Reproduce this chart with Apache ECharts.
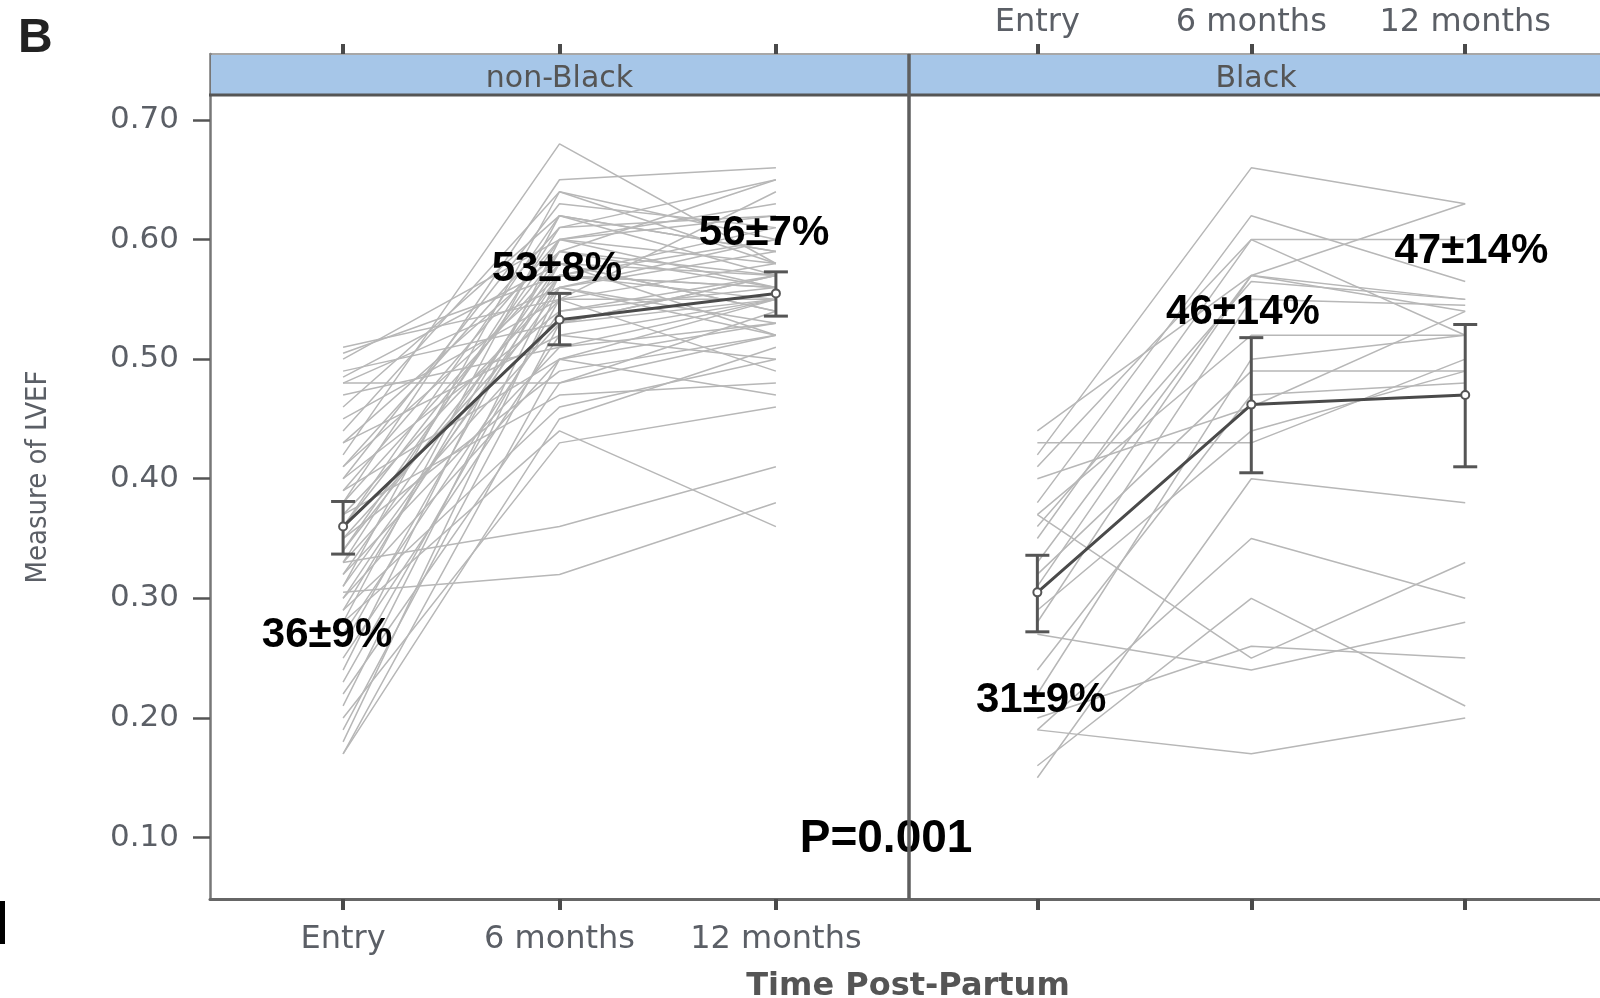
<!DOCTYPE html>
<html>
<head>
<meta charset="utf-8">
<script src="https://cdn.jsdelivr.net/npm/echarts@6/dist/echarts.min.js"></script>
<style>
html,body{margin:0;padding:0;background:#fff;}
#chart{width:1600px;height:998px;}
</style>
</head>
<body>
<div id="chart"></div>
<script>
// ---------- data ----------
const categories = ['Entry', '6 months', '12 months'];
const yTicks = [0.1, 0.2, 0.3, 0.4, 0.5, 0.6, 0.7];
const panels = ['non-Black', 'Black'];

// individual patients [Entry, 6 months, 12 months]
const nonBlackLines = [
  [0.51, 0.55, 0.58], [0.505, 0.57, 0.56], [0.50, 0.60, 0.62], [0.49, 0.53, 0.55],
  [0.485, 0.58, 0.57], [0.48, 0.48, 0.52], [0.48, 0.56, 0.60], [0.47, 0.51, 0.53],
  [0.46, 0.62, 0.59], [0.45, 0.55, 0.64], [0.44, 0.64, 0.58], [0.43, 0.59, 0.56],
  [0.43, 0.52, 0.50], [0.42, 0.68, 0.58], [0.41, 0.61, 0.65], [0.41, 0.57, 0.55],
  [0.40, 0.63, 0.61], [0.40, 0.54, 0.57], [0.39, 0.60, 0.56], [0.39, 0.50, 0.53],
  [0.38, 0.65, 0.66], [0.38, 0.58, 0.54], [0.37, 0.56, 0.59], [0.37, 0.47, 0.48],
  [0.36, 0.62, 0.57], [0.36, 0.59, 0.65], [0.35, 0.55, 0.55], [0.35, 0.49, 0.52],
  [0.34, 0.60, 0.63], [0.34, 0.57, 0.56], [0.33, 0.36, 0.41], [0.33, 0.61, 0.62],
  [0.33, 0.53, 0.57], [0.32, 0.58, 0.54], [0.32, 0.51, 0.55], [0.31, 0.64, 0.60],
  [0.305, 0.32, 0.38], [0.28, 0.44, 0.36], [0.31, 0.56, 0.53], [0.30, 0.57, 0.60],
  [0.30, 0.50, 0.47], [0.29, 0.59, 0.57], [0.29, 0.46, 0.50], [0.28, 0.62, 0.59],
  [0.27, 0.54, 0.56], [0.26, 0.58, 0.52], [0.25, 0.52, 0.55], [0.24, 0.60, 0.58],
  [0.23, 0.55, 0.49], [0.22, 0.48, 0.54], [0.21, 0.57, 0.61], [0.20, 0.43, 0.46],
  [0.19, 0.53, 0.57], [0.18, 0.56, 0.52], [0.17, 0.50, 0.55], [0.17, 0.45, 0.51]
];
const blackLines = [
  [0.42, 0.66, 0.63], [0.38, 0.62, 0.565], [0.41, 0.60, 0.60], [0.44, 0.57, 0.63],
  [0.36, 0.565, 0.55], [0.33, 0.57, 0.54], [0.37, 0.52, 0.52], [0.32, 0.49, 0.49],
  [0.43, 0.43, 0.50], [0.29, 0.44, 0.49], [0.40, 0.46, 0.54], [0.15, 0.40, 0.38],
  [0.37, 0.25, 0.33], [0.19, 0.35, 0.30], [0.16, 0.30, 0.21], [0.27, 0.24, 0.28],
  [0.20, 0.26, 0.25], [0.19, 0.17, 0.20], [0.24, 0.47, 0.48], [0.28, 0.55, 0.545],
  [0.22, 0.50, 0.52], [0.31, 0.57, 0.55], [0.35, 0.60, 0.52]
];

// group means and error bars
const meanNonBlack = [0.360, 0.533, 0.555];
const lowNonBlack  = [0.337, 0.512, 0.536];
const highNonBlack = [0.381, 0.555, 0.573];
const meanBlack = [0.305, 0.462, 0.470];
const lowBlack  = [0.272, 0.405, 0.410];
const highBlack = [0.336, 0.518, 0.529];

// annotations: [text, x (time index), y (LVEF)]
const annotNonBlack = [
  ['36±9%', -0.074, 0.269],
  ['53±8%', 0.988, 0.575],
  ['56±7%', 1.945, 0.605]
];
const annotBlack = [
  ['31±9%', 0.018, 0.215],
  ['46±14%', 0.961, 0.539],
  ['47±14%', 2.029, 0.590]
];
const pValueText = ['P=0.001', 2.509, 0.0987];

// ---------- chart ----------
const chart = echarts.init(document.getElementById('chart'), null, {renderer: 'canvas'});

const Y_MIN = 0.04857, Y_MAX = 0.75519;
const GREY = '#5b5f66';
const labelFont = 'DejaVu Sans';

function xAxisDef(gridIndex, position, min, max, showLabels) {
  return {
    type: 'value', gridIndex, position, min, max,
    axisLine: {show: true, onZero: false, lineStyle: position === 'bottom' ? {color: '#666', width: 3} : {color: '#8a8a8a', width: 1.5}},
    axisTick: {show: true, customValues: [0, 1, 2], length: position === 'bottom' ? 11 : 10, lineStyle: {color: '#4a4a4a', width: 4}},
    axisLabel: {show: showLabels, customValues: [0, 1, 2], formatter: v => categories[Math.round(v)],
      margin: position === 'bottom' ? 25 : 15, fontFamily: labelFont, fontSize: 32, color: GREY},
    splitLine: {show: false}
  };
}

const series = [];
function annotSeries(gi, items, size) {
  return {
    type: 'scatter', xAxisIndex: gi * 2, yAxisIndex: gi, silent: true, z: 6, animation: false,
    symbol: 'circle', symbolSize: 2, itemStyle: {color: 'rgba(0,0,0,0)'},
    labelLayout: {hideOverlap: false},
    data: items.map(a => ({name: a[0], value: [a[1], a[2]]})),
    label: {show: true, position: 'inside', formatter: '{b}', fontFamily: 'Liberation Sans',
      fontWeight: 'bold', fontSize: size, color: '#000', opacity: 1}
  };
}
function addPanel(lines, mean, low, high, annots, gi) {
  lines.forEach((l) => {
    series.push({
      type: 'line', xAxisIndex: gi * 2, yAxisIndex: gi, silent: true, symbol: 'none',
      data: l.map((v, k) => [k, v]),
      lineStyle: {color: '#b7b7b7', width: 1.5}, z: 2, animation: false
    });
  });
  series.push({
    type: 'custom', xAxisIndex: gi * 2, yAxisIndex: gi, silent: true, z: 4, animation: false,
    data: mean.map((m, k) => [k, low[k], high[k]]),
    renderItem: (params, api) => {
      const x = api.value(0);
      const p1 = api.coord([x, api.value(1)]);
      const p2 = api.coord([x, api.value(2)]);
      const cw = 12;
      const st = {stroke: '#555', lineWidth: 3};
      return {type: 'group', children: [
        {type: 'line', shape: {x1: p1[0], y1: p1[1], x2: p2[0], y2: p2[1]}, style: st},
        {type: 'line', shape: {x1: p1[0] - cw, y1: p1[1], x2: p1[0] + cw, y2: p1[1]}, style: st},
        {type: 'line', shape: {x1: p2[0] - cw, y1: p2[1], x2: p2[0] + cw, y2: p2[1]}, style: st}
      ]};
    }
  });
  series.push({
    type: 'line', xAxisIndex: gi * 2, yAxisIndex: gi, silent: true, z: 5, animation: false,
    data: mean.map((v, k) => [k, v]),
    symbol: 'emptyCircle', symbolSize: 8,
    itemStyle: {color: '#555', borderColor: '#555', borderWidth: 1.5},
    lineStyle: {color: '#4a4a4a', width: 3}
  });
  series.push(annotSeries(gi, annots, 42));
}
addPanel(nonBlackLines, meanNonBlack, lowNonBlack, highNonBlack, annotNonBlack, 0);
addPanel(blackLines, meanBlack, lowBlack, highBlack, annotBlack, 1);
series.push(annotSeries(0, [pValueText], 46));

const option = {
  backgroundColor: '#fff',
  animation: false,
  grid: [
    {left: 210, top: 54, width: 699, height: 845},
    {left: 909, top: 54, width: 699, height: 845}
  ],
  xAxis: [
    xAxisDef(0, 'bottom', -0.615, 2.615, true),
    xAxisDef(0, 'top', -0.615, 2.615, false),
    xAxisDef(1, 'bottom', -0.60, 2.63, false),
    xAxisDef(1, 'top', -0.60, 2.63, true)
  ],
  yAxis: [
    {type: 'value', gridIndex: 0, min: Y_MIN, max: Y_MAX, position: 'left',
      axisLine: {show: true, onZero: false, lineStyle: {color: '#777', width: 2.5}},
      axisTick: {show: true, customValues: yTicks, length: 17, lineStyle: {color: '#555', width: 2.5}},
      axisLabel: {show: true, customValues: yTicks, formatter: v => v.toFixed(2), margin: 31,
        fontFamily: labelFont, fontSize: 31, color: GREY},
      splitLine: {show: false}},
    {type: 'value', gridIndex: 1, min: Y_MIN, max: Y_MAX, position: 'left',
      axisLine: {show: false, onZero: false}, axisTick: {show: false}, axisLabel: {show: false}, splitLine: {show: false}}
  ],
  graphic: [
    {type: 'rect', z: 100, shape: {x: 211, y: 55, width: 698, height: 39}, style: {fill: '#a6c6e8'}},
    {type: 'rect', z: 100, shape: {x: 909, y: 55, width: 700, height: 39}, style: {fill: '#a6c6e8'}},
    {type: 'line', z: 101, shape: {x1: 209, y1: 95, x2: 1600, y2: 95}, style: {stroke: '#555', lineWidth: 3}},
    {type: 'line', z: 101, shape: {x1: 909, y1: 54, x2: 909, y2: 899}, style: {stroke: '#5e5e5e', lineWidth: 3.5}},
    {type: 'text', z: 102, x: 559.5, y: 79, style: {text: panels[0], font: '30px "DejaVu Sans"', fill: '#555', align: 'center', verticalAlign: 'middle'}},
    {type: 'text', z: 102, x: 1256, y: 79, style: {text: panels[1], font: '30px "DejaVu Sans"', fill: '#555', align: 'center', verticalAlign: 'middle'}},
    {type: 'text', z: 102, x: 908, y: 987, style: {text: 'Time Post-Partum', font: 'bold 32px "DejaVu Sans"', fill: '#555', align: 'center', verticalAlign: 'middle'}},
    {type: 'text', z: 102, x: 38, y: 477, rotation: Math.PI / 2, style: {text: 'Measure of LVEF', font: '29px "Liberation Sans Narrow", "DejaVu Sans Condensed", "Liberation Sans"', fill: GREY, align: 'center', verticalAlign: 'middle'}},
    {type: 'text', z: 102, x: 18, y: 39, style: {text: 'B', font: 'bold 48px "Liberation Sans"', fill: '#222', align: 'left', verticalAlign: 'middle'}},
    {type: 'rect', z: 102, shape: {x: 0, y: 901, width: 5, height: 43}, style: {fill: '#000'}}
  ],
  series
};
chart.setOption(option);
</script>
</body>
</html>
